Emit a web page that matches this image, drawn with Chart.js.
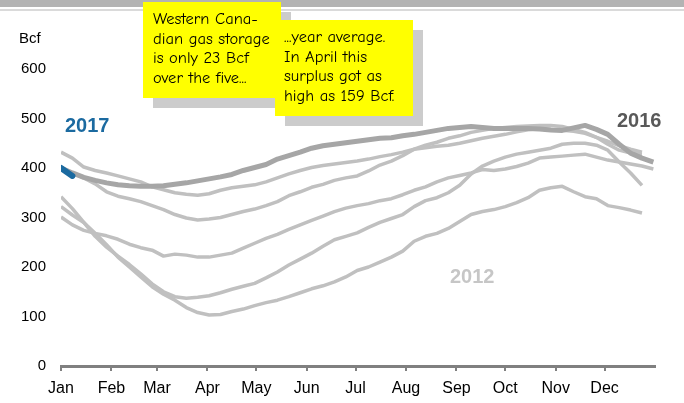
<!DOCTYPE html>
<html lang="en">
<head>
    <meta charset="UTF-8">
    <title>Western Canadian gas storage</title>
    <style>
        body { margin: 0; background: #fff; }
        .wrap { position: relative; width: 684px; height: 403px; overflow: hidden; font-family: "Liberation Sans", Arial, sans-serif; }
        .topband { position: absolute; left: 0; top: 0; width: 684px; height: 7px; background: #b3b3b3; }
        .topline { position: absolute; left: 0; top: 9px; width: 684px; height: 2px; background: #dadada; }
        .shadow { position: absolute; background: #cccccc; }
        .note { position: absolute; background: #ffff00; width: 138px; height: 96px; box-sizing: border-box;
                padding: 7px 0 0 10px; font-family: "Comic Sans MS", "Comic Neue", "DejaVu Sans", sans-serif;
                font-size: 16.5px; line-height: 19.5px; color: #000; white-space: nowrap; }
        .unit { position: absolute; left: 19px; top: 29px; font-size: 15px; color: #000; }
        .year { position: absolute; font-weight: bold; font-size: 20px; }
    </style>
</head>
<body>
<div class="wrap">
    <canvas id="storageChart" width="684" height="403"></canvas>

    <div class="topband"></div>
    <div class="topline"></div>

    <!-- callouts -->
    <div class="shadow" style="left:153px; top:12px; width:138px; height:96px;"></div>
    <div class="note" style="left:143px; top:2px;">Western Cana-<br>dian gas storage<br>is only 23 Bcf<br>over the five...</div>
    <div class="shadow" style="left:285px; top:30px; width:138px; height:96px;"></div>
    <div class="note" style="left:275px; top:20px; padding-left:9px;">...year average.<br>In April this<br>surplus got as<br>high as 159 Bcf.</div>

    <div class="unit">Bcf</div>
    <div class="year" style="left:65px; top:114px; color:#1b6aa0;">2017</div>
    <div class="year" style="left:617px; top:109px; color:#595959;">2016</div>
    <div class="year" style="left:450px; top:265px; color:#c6c6c6;">2012</div>
</div>

<script src="https://cdn.jsdelivr.net/npm/chart.js"></script>
<script>
    // month ticks (day of year where each month starts)
    const months = ['Jan', 'Feb', 'Mar', 'Apr', 'May', 'Jun', 'Jul', 'Aug', 'Sep', 'Oct', 'Nov', 'Dec'];
    const monthStart = [0, 31, 59, 90, 120, 151, 181, 212, 243, 273, 304, 334];
    const yTicks = [0, 100, 200, 300, 400, 500, 600];

    // weekly storage, Bcf (one value per week from Jan 1)
    const s2017 = [400, 384];
    const s2016 = [400, 390, 381, 375, 370, 366, 364, 363, 363, 364, 367, 370, 374, 378, 382, 387, 395, 401, 407, 418,
                   425, 432, 440, 445, 448, 451, 454, 457, 460, 461, 465, 468, 472, 476, 480, 482, 484, 482, 480, 480,
                   480, 480, 479, 477, 476, 481, 486, 478, 468, 448, 430, 420, 412];
    // the five previous years (light grey lines)
    const pastA = [432, 420, 402, 395, 390, 384, 378, 372, 362, 356, 350, 347, 345, 348, 355, 360, 363, 366, 372, 380,
                   388, 395, 401, 405, 408, 411, 414, 418, 423, 427, 432, 438, 441, 444, 446, 450, 455, 460, 464, 468,
                   473, 477, 480, 478, 476, 474, 470, 462, 448, 436, 430, 428];
    const pastB = [398, 390, 380, 368, 352, 343, 338, 332, 324, 316, 306, 299, 295, 297, 300, 306, 312, 317, 324, 332,
                   344, 352, 361, 367, 375, 380, 384, 394, 406, 414, 425, 438, 446, 452, 460, 465, 472, 476, 480, 482,
                   484, 485, 486, 486, 484, 478, 472, 462, 454, 445, 438, 432];
    const pastC = [301, 285, 274, 268, 263, 256, 246, 239, 234, 222, 226, 224, 220, 220, 224, 228, 238, 248, 258, 266,
                   276, 285, 294, 303, 312, 319, 324, 328, 334, 338, 346, 355, 362, 372, 380, 385, 390, 397, 395, 398,
                   403, 410, 420, 422, 424, 426, 428, 422, 416, 412, 408, 404, 398];
    const pastD = [342, 318, 290, 262, 240, 222, 205, 186, 166, 150, 140, 137, 139, 142, 148, 155, 161, 167, 178, 190,
                   204, 216, 228, 242, 255, 262, 269, 280, 290, 298, 306, 322, 334, 340, 350, 365, 388, 404, 414, 422,
                   428, 432, 436, 440, 448, 450, 450, 446, 436, 412, 390, 365];
    const pastE = [322, 305, 290, 268, 245, 220, 200, 180, 160, 145, 133, 118, 108, 103, 104, 110, 115, 122, 128, 133,
                   140, 148, 156, 162, 170, 180, 193, 200, 210, 220, 232, 252, 262, 268, 278, 292, 306, 312, 316, 322,
                   330, 340, 355, 360, 363, 352, 342, 338, 324, 320, 315, 309];

    const toPoints = values => values.map((v, i) => ({ x: i * 7, y: v }));

    const grey = { borderColor: '#c0c0c0', borderWidth: 3.5 };
    const datasets = [
        { label: '2017', data: toPoints(s2017), borderColor: '#1b6aa0', borderWidth: 6, borderCapStyle: 'round' },
        { label: '2016', data: toPoints(s2016), borderColor: '#a6a6a6', borderWidth: 5 },
        { label: 'A', data: toPoints(pastA), ...grey },
        { label: 'B', data: toPoints(pastB), ...grey },
        { label: 'C', data: toPoints(pastC), ...grey },
        { label: 'D', data: toPoints(pastD), ...grey },
        { label: 'E', data: toPoints(pastE), ...grey }
    ];
    datasets.forEach(d => { d.pointRadius = 0; d.tension = 0; d.borderJoinStyle = 'round'; d.fill = false; });

    new Chart(document.getElementById('storageChart'), {
        type: 'line',
        data: { datasets: datasets },
        options: {
            responsive: false,
            animation: false,
            layout: { padding: { left: 0, top: 69, right: 29, bottom: 0 } },
            plugins: { legend: { display: false }, tooltip: { enabled: false } },
            scales: {
                x: {
                    type: 'linear',
                    min: 0,
                    max: 365,
                    afterBuildTicks: scale => { scale.ticks = monthStart.map(v => ({ value: v })); },
                    afterFit: scale => { scale.height = 37; },
                    ticks: {
                        autoSkip: false,
                        maxRotation: 0,
                        padding: 8,
                        color: '#000',
                        font: { family: 'Liberation Sans', size: 16 },
                        callback: value => months[monthStart.indexOf(value)]
                    },
                    grid: { drawOnChartArea: false, color: '#808080', lineWidth: 2, tickLength: 5 },
                    border: { color: '#808080', width: 3 }
                },
                y: {
                    min: 0,
                    max: 600,
                    afterBuildTicks: scale => { scale.ticks = yTicks.map(v => ({ value: v })); },
                    afterFit: scale => { scale.width = 61; },
                    ticks: {
                        padding: 15,
                        color: '#000',
                        font: { family: 'Liberation Sans', size: 15 }
                    },
                    grid: { display: false, drawTicks: false },
                    border: { display: false }
                }
            }
        }
    });
</script>
</body>
</html>
